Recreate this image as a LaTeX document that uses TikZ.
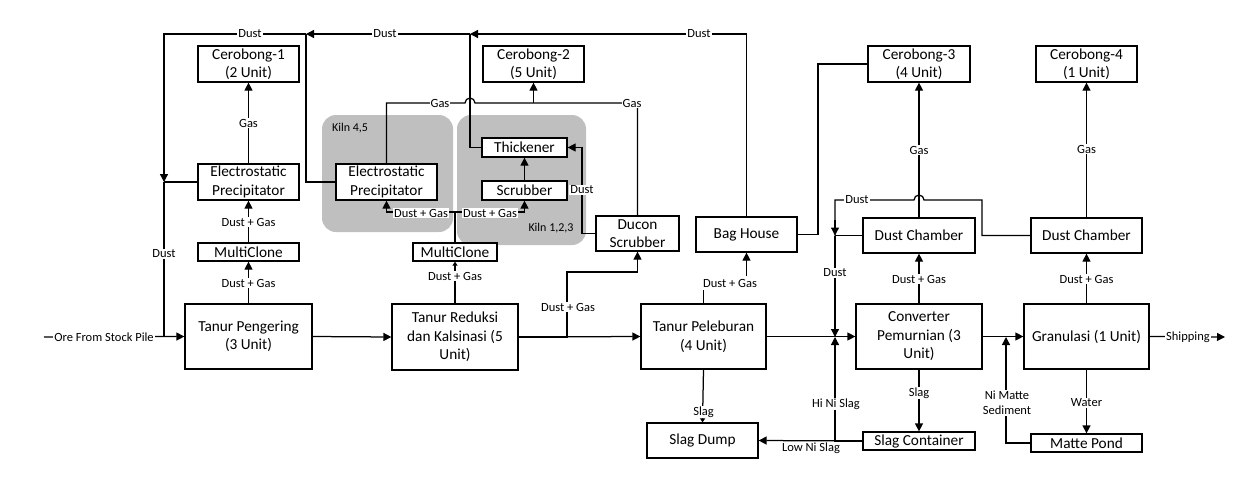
\documentclass[tikz,border=0pt]{standalone}
\usepackage{fontspec}
\setmainfont{Carlito}
\usetikzlibrary{arrows.meta}
\definecolor{kilngray}{RGB}{191,191,191}
\begin{document}
\begin{tikzpicture}[x=1pt,y=-1pt,
  box/.style={draw, fill=white, line width=1.25pt, inner sep=0pt, align=center, font=\fontsize{15.3}{18.5}\selectfont},
  lbl/.style={fill=white, inner sep=1pt, align=center, font=\fontsize{12.5}{15}\selectfont},
  klbl/.style={inner sep=0pt, font=\fontsize{12}{14}\selectfont},
  ln/.style={line width=1.25pt},
  arr/.style={ln, -{Triangle[length=8pt,width=8pt]}},
  sarr/.style={ln, -{Triangle[length=4pt,width=5pt]}},
  kiln/.style={fill=kilngray, rounded corners=14pt}
]
\useasboundingbox (0,0) rectangle (1258,482);

% kiln regions
\fill[kiln] (322,115) rectangle (453,232);
\fill[kiln] (457,115) rectangle (586,245);
\node[klbl] (k45) at (350,128) {Kiln 4,5};
\node[klbl] (k123) at (551,228) {Kiln 1,2,3};

% boxes
\node[box, minimum width=101pt, minimum height=36pt] (cer1) at (248.5,64) {Cerobong-1\\(2 Unit)};
\node[box, minimum width=101pt, minimum height=36pt] (esp1) at (248.5,182) {Electrostatic\\Precipitator};
\node[box, minimum width=101pt, minimum height=18pt] (mc1) at (248.5,252) {MultiClone};
\node[box, minimum width=127pt, minimum height=65pt] (peng) at (248.5,336.5) {Tanur Pengering\\(3 Unit)};
\node[box, minimum width=101pt, minimum height=36pt] (cer2) at (533.5,64) {Cerobong-2\\(5 Unit)};
\node[box, minimum width=85pt, minimum height=19pt] (thick) at (524.5,147.5) {Thickener};
\node[box, minimum width=85pt, minimum height=19pt] (scrub) at (524.5,190.5) {Scrubber};
\node[box, minimum width=101pt, minimum height=36pt] (esp2) at (386.5,182) {Electrostatic\\Precipitator};
\node[box, minimum width=84pt, minimum height=18pt] (mc2) at (455,252) {MultiClone};
\node[box, minimum width=126pt, minimum height=66pt] (red) at (455,337) {Tanur Reduksi\\dan Kalsinasi (5\\Unit)};
\node[box, minimum width=83pt, minimum height=35pt] (ducon) at (637.5,233.5) {Ducon\\Scrubber};
\node[box, minimum width=101pt, minimum height=35pt] (bag) at (746.5,234.5) {Bag House};
\node[box, minimum width=125pt, minimum height=65pt] (pel) at (703.5,336.5) {Tanur Peleburan\\(4 Unit)};
\node[box, minimum width=111pt, minimum height=35pt] (sdump) at (702.5,440.5) {Slag Dump};
\node[box, minimum width=102pt, minimum height=36pt] (cer3) at (919,64) {Cerobong-3\\(4 Unit)};
\node[box, minimum width=112pt, minimum height=35pt] (dc1) at (919,235.5) {Dust Chamber};
\node[box, minimum width=126pt, minimum height=65pt] (conv) at (919,336.5) {Converter\\Pemurnian (3\\Unit)};
\node[box, minimum width=112pt, minimum height=18pt] (scont) at (919,441) {Slag Container};
\node[box, minimum width=101pt, minimum height=36pt] (cer4) at (1086.5,64) {Cerobong-4\\(1 Unit)};
\node[box, minimum width=111pt, minimum height=35pt] (dc2) at (1086.5,235.5) {Dust Chamber};
\node[box, minimum width=125pt, minimum height=65pt] (gran) at (1086.5,336.5) {Granulasi (1 Unit)};
\node[box, minimum width=111pt, minimum height=18pt] (mpond) at (1086.5,443) {Matte Pond};

% junction / free-end coordinates
\coordinate (ore) at (44,337);
\coordinate (ship) at (1225,337);
\coordinate (jT470) at (470,34);
\coordinate (jT306) at (306,34);
\coordinate (jL182) at (164,182);
\coordinate (jL337) at (164,337);
\coordinate (jC) at (835,337);
\coordinate (jG) at (1006,337);

% main flow
\draw[arr] (ore) -- (peng.west);
\draw[arr] (peng.east) -- (red.west);
\draw[arr] (red.east) -- (pel.west);
\draw[arr] (pel.east) -- (conv.west);
\draw[arr] (conv.east) -- (gran.west);
\draw[arr] (gran.east) -- (ship);

% left column
\draw[arr] (peng.north) -- (mc1.south);
\draw[arr] (mc1.north) -- (esp1.south);
\draw[arr] (esp1.north) -- (cer1.south);
\draw[ln] (esp1.west) -- (jL182);

% top dust line
\draw[arr] (bag.north) |- (jT470);
\draw[arr] (jT470) -- (jT306);
\draw[arr] (jT306) -- (164,34) -- (jL182);
\draw[ln] (jL182) -- (jL337);
\draw[ln] (esp2.west) -| (jT306);
\draw[ln] (thick.west) -| (jT470);

% kiln internals
\draw[sarr] (red.north) -- (mc2.south);
\draw[arr] (mc2.north) |- (386.5,212) -- (esp2.south);
\draw[arr] (455,212) -| (scrub.south);
\draw[arr] (scrub.north) -- (thick.south);
\draw[arr] (ducon.west) -- (582,233.5) |- (thick.east);
\draw[arr] (red.east) -- (567,337) -- (567,272) -| (ducon.south);

% gas line to Cerobong-2
\draw[ln] (esp2.north) |- (465,103) arc[start angle=180, end angle=360, radius=5] -- (637.5,103) -- (ducon.north);
\draw[arr] (533.5,103) -- (cer2.south);

% Peleburan
\draw[arr] (pel.north) |- (746.5,280) -- (bag.south);
\draw[sarr] (pel.south) -- (sdump.north);
\draw[ln] (bag.east) -- (818,234.5) |- (cer3.west);

% Converter
\draw[arr] (conv.north) -- (dc1.south);
\draw[arr] (dc1.north) -- (cer3.south);
\draw[arr] (conv.south) -- (scont.north);
\draw[ln] (dc2.west) -- (982,235.5) -- (982,200) -- (924,200) arc[start angle=0, end angle=-180, radius=5] -- (835,200) -- (835,235.5);
\draw[arr] (835,220) -- (835,235.5);
\draw[ln] (dc1.west) -- (835,235.5);
\draw[arr] (835,235.5) -- (jC);
\draw[arr] (scont.west) -| (jC);
\draw[arr] (scont.west) -- (sdump.east);

% Granulasi
\draw[arr] (gran.north) -- (dc2.south);
\draw[arr] (dc2.north) -- (cer4.south);
\draw[arr] (gran.south) -- (mpond.north);
\draw[arr] (mpond.west) -| (jG);

% labels
\node[lbl] (l1) at (104,337) {Ore From Stock Pile};
\node[lbl] (l2) at (250,34) {Dust};
\node[lbl] (l3) at (385,34) {Dust};
\node[lbl] (l4) at (699,34) {Dust};
\node[lbl] (l5) at (248.5,123) {Gas};
\node[lbl] (l6) at (248.5,222) {Dust + Gas};
\node[lbl] (l7) at (164,254) {Dust};
\node[lbl] (l8) at (248.5,283) {Dust + Gas};
\node[lbl] (l9) at (440,103) {Gas};
\node[lbl] (l10) at (632,103) {Gas};
\node[lbl] (l11) at (421,213) {Dust + Gas};
\node[lbl] (l12) at (490,213) {Dust + Gas};
\node[lbl] (l13) at (582,190) {Dust};
\node[lbl] (l14) at (455,276) {Dust + Gas};
\node[lbl] (l15) at (568,307) {Dust + Gas};
\node[lbl, inner ysep=3pt] (l16) at (730,283) {Dust + Gas};
\node[lbl] (l17) at (703.5,412) {Slag};
\node[lbl] (l18) at (857,200) {Dust};
\node[lbl] (l19) at (919,150) {Gas};
\node[lbl] (l20) at (835,273) {Dust};
\node[lbl] (l21) at (919,279) {Dust + Gas};
\node[lbl] (l22) at (919,393) {Slag};
\node[lbl] (l23) at (836,404) {Hi Ni Slag};
\node[lbl] (l24) at (811,448) {Low Ni Slag};
\node[lbl] (l25) at (1086.5,149) {Gas};
\node[lbl] (l26) at (1086.5,279) {Dust + Gas};
\node[lbl] (l27) at (1007,403) {Ni Matte\\Sediment};
\node[lbl] (l28) at (1086.5,403) {Water};
\node[lbl] (l29) at (1188,337) {Shipping};
\end{tikzpicture}
\end{document}
